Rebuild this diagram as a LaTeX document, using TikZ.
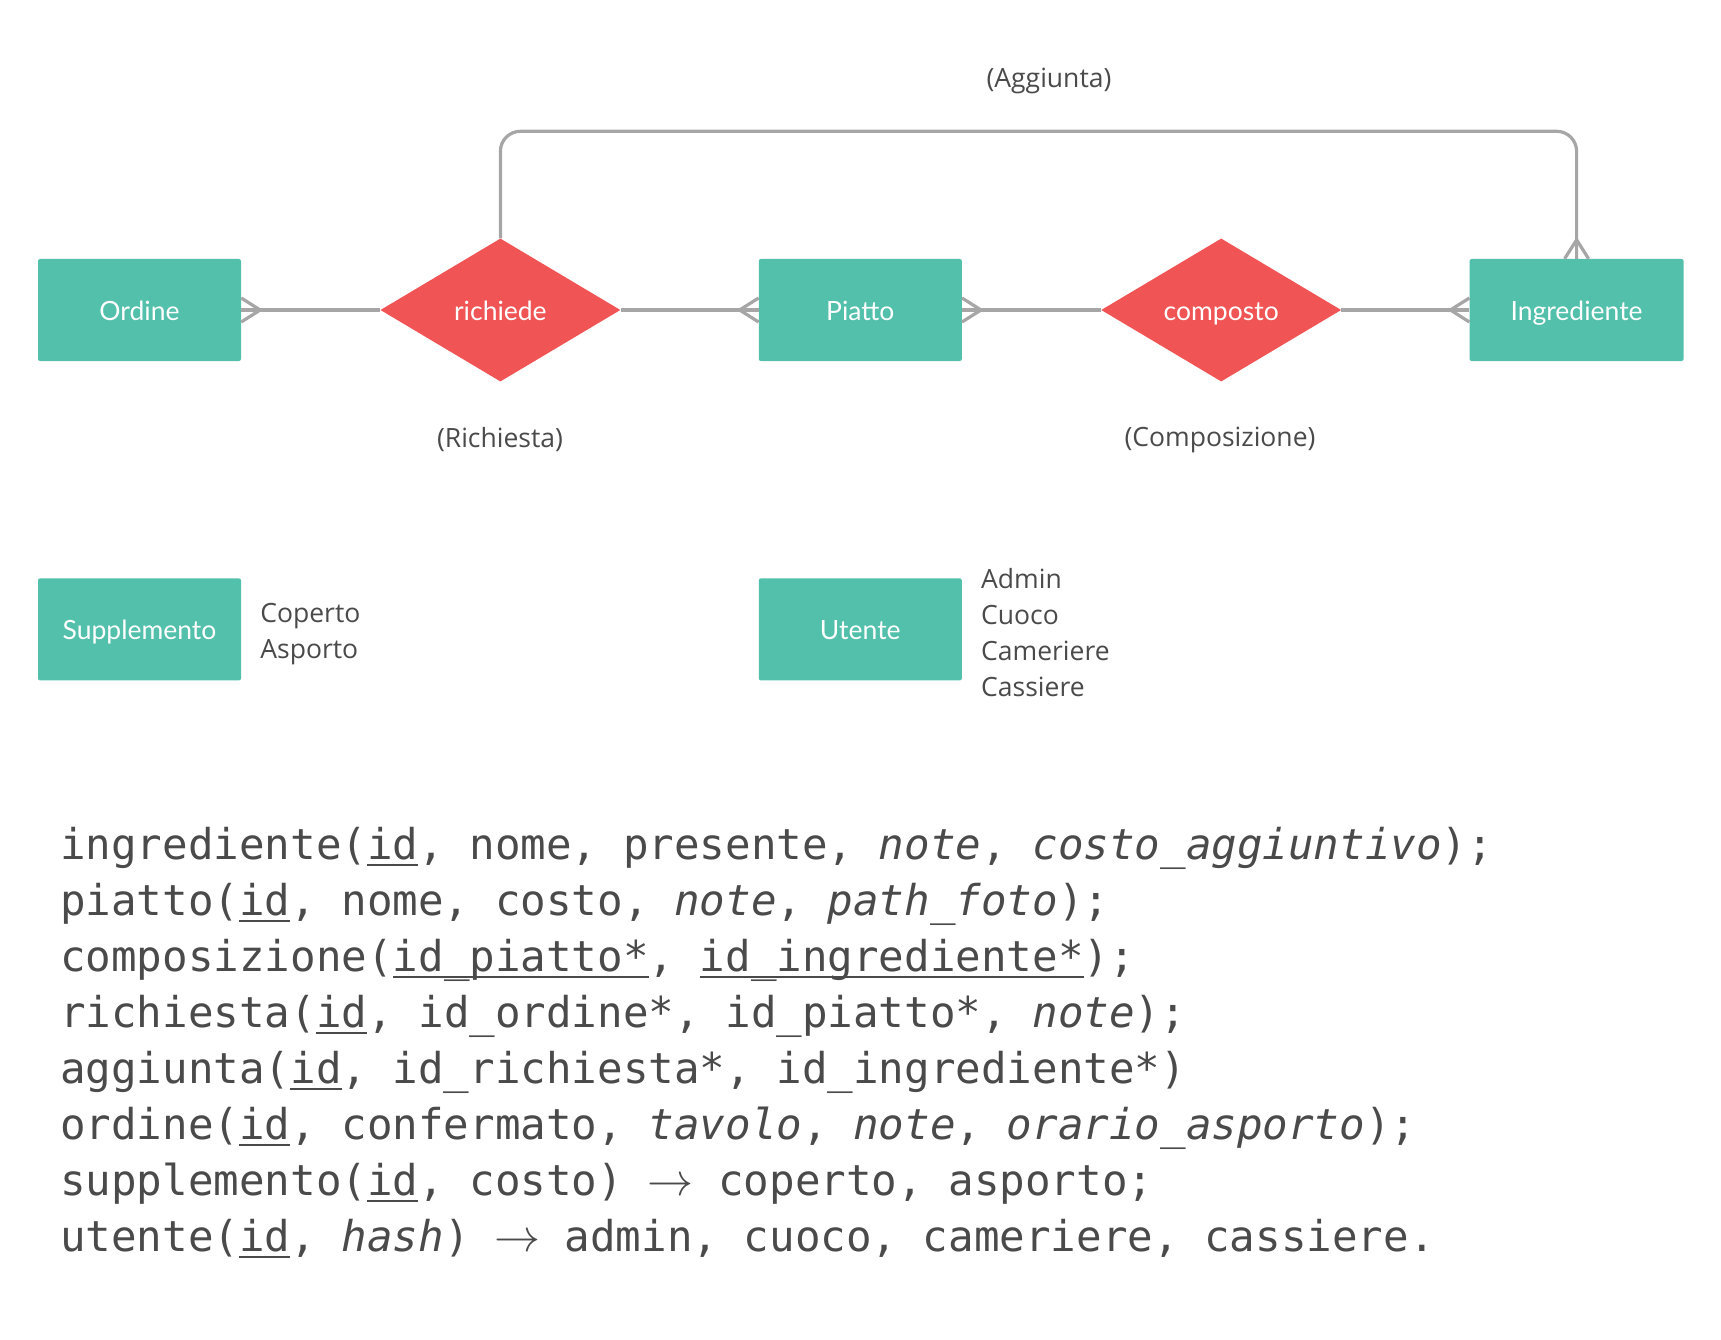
\documentclass[tikz,border=0pt]{standalone}
\usepackage{graphicx}
\usepackage{fontspec}
\setmonofont{DejaVu Sans Mono}
\newfontfamily\latofont{Lato}
\newfontfamily\notefont{Open Sans}
\usetikzlibrary{positioning,shapes.geometric,calc}

\definecolor{entita}{RGB}{82,192,170}
\definecolor{relaz}{RGB}{240,84,84}
\definecolor{linea}{RGB}{166,166,166}
\definecolor{testo}{RGB}{74,74,74}

% primary key: fixed-depth underline
\newsavebox\pkbox
\newcommand{\pk}[1]{\sbox\pkbox{#1}\rlap{\rule[-7pt]{\wd\pkbox}{2.5pt}}\usebox\pkbox}
\newcommand{\freccia}{\makebox[44pt]{\scalebox{4.6}{\normalsize$\rightarrow$}}}
% crow's foot at a box side (#2 = direction away from the box)
\newcommand{\crowfoot}[2]{%
  \draw[link] ($(#1)+(#2+90:12)$) -- ($(#1)+(#2:19)$) -- ($(#1)+(#2-90:12)$);}

\begin{document}
\begin{tikzpicture}[x=1pt,y=-1pt,
  entity/.style={rectangle,rounded corners=2pt,fill=entita,text=white,
    minimum width=203pt,minimum height=102pt,inner sep=0,
    text height=24pt,text depth=3.4pt,
    font=\latofont\fontsize{26.5}{30}\selectfont},
  relation/.style={diamond,aspect=1.68,fill=relaz,text=white,
    minimum width=240pt,minimum height=143pt,inner sep=0,
    text height=24pt,text depth=3.4pt,
    font=\latofont\fontsize{26.5}{30}\selectfont},
  link/.style={draw=linea,line width=3.2pt},
  nota/.style={inner sep=0,align=left,text=testo,
    font=\notefont\fontsize{26.5}{36}\selectfont},
  code/.style={anchor=base west,inner sep=0,text=testo,
    font=\ttfamily\fontsize{42.5}{50}\selectfont}
]
  \useasboundingbox (0,0) rectangle (1721,1340);

  % ER diagram
  \node[entity] (ordine) at (139.5,310) {Ordine};
  \node[relation,right=139pt of ordine] (richiede) {richiede};
  \node[entity,right=138pt of richiede] (piatto) {Piatto};
  \node[relation,right=139pt of piatto] (composto) {composto};
  \node[entity,minimum width=214pt,right=128pt of composto] (ingrediente) {Ingrediente};
  \node[entity,below=217pt of ordine] (supplemento) {Supplemento};
  \node[entity,below=217pt of piatto] (utente) {Utente};

  \node[nota] (aggiunta) at (1049,81) {(Aggiunta)};
  \node[nota] (richiesta) at (500,440) {(Richiesta)};
  \node[nota] (composizione) at (1220,440) {(Composizione)};
  \node[nota,right=19pt of supplemento,yshift=-5pt] (tipi) {Coperto\\Asporto};
  \node[nota,right=19pt of utente,yshift=-3.3pt] (ruoli) {Admin\\Cuoco\\Cameriere\\Cassiere};

  \draw[link] (ordine) -- (richiede);
  \draw[link] (richiede) -- (piatto);
  \draw[link] (piatto) -- (composto);
  \draw[link] (composto) -- (ingrediente);
  \draw[link,rounded corners=20pt] (richiede.north) -- ++(0,-107) -| (ingrediente.north);

  \crowfoot{ordine.east}{0}
  \crowfoot{piatto.west}{180}
  \crowfoot{piatto.east}{0}
  \crowfoot{ingrediente.west}{180}
  \crowfoot{ingrediente.north}{-90}

  % relational schema
  \foreach \riga [count=\i] in {
    {ingrediente(\pk{id}, nome, presente, \textit{note}, \textit{costo\_aggiuntivo});},
    {piatto(\pk{id}, nome, costo, \textit{note}, \textit{path\_foto});},
    {composizione(\pk{id\_piatto*}, \pk{id\_ingrediente*});},
    {richiesta(\pk{id}, id\_ordine*, id\_piatto*, \textit{note});},
    {aggiunta(\pk{id}, id\_richiesta*, id\_ingrediente*)},
    {ordine(\pk{id}, confermato, \textit{tavolo}, \textit{note}, \textit{orario\_asporto});},
    {supplemento(\pk{id}, costo) \freccia{} coperto, asporto;},
    {utente(\pk{id}, \textit{hash}) \freccia{} admin, cuoco, cameriere, cassiere.}}
    \node[code] (l\i) at (60,859+56*\i-56) {\riga};
\end{tikzpicture}
\end{document}
